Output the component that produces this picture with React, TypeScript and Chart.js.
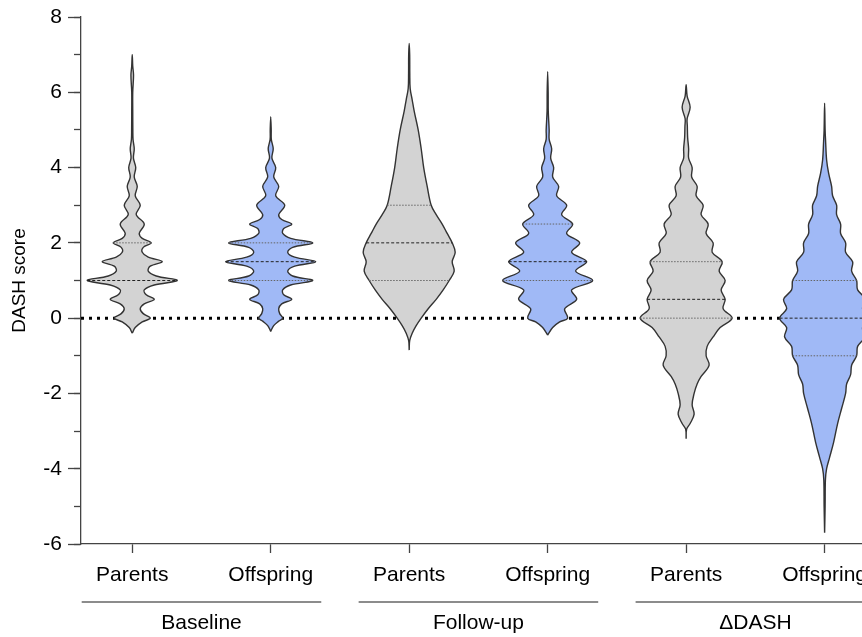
import React, { useEffect, useRef } from 'react';
import { Chart, registerables } from 'chart.js';

Chart.register(...registerables);

// ---- Data ----
const subgroupLabels = ['Parents', 'Offspring', 'Parents', 'Offspring', 'Parents', 'Offspring'];
const groupLabels = ['Baseline', 'Follow-up', 'ΔDASH'];
const groupCenters = [0.5, 2.5, 4.5];

// Violin outlines: [score, relative half-width] from bottom to top
const baselineParents: [number, number][] = [
  [-0.4, 0], [-0.25, 3], [-0.1, 10], [0, 18], [0.12, 11], [0.25, 8], [0.38, 12], [0.5, 22], [0.62, 14],
  [0.75, 12], [0.88, 22], [1.0, 45], [1.12, 24], [1.25, 16], [1.38, 18], [1.5, 30], [1.62, 16], [1.75, 10],
  [1.88, 11], [2.0, 19], [2.12, 10], [2.25, 7], [2.5, 12], [2.75, 4], [3.0, 8], [3.25, 3], [3.5, 5],
  [3.75, 2], [4.0, 3.5], [4.25, 1.2], [4.5, 2], [4.75, 0.8], [5.0, 0.6], [5.5, 0.5], [6.0, 0.5],
  [6.45, 1.3], [6.7, 0.5], [7.0, 0],
];
const baselineOffspring: [number, number][] = [
  [-0.35, 0], [-0.2, 3], [-0.08, 8], [0, 12], [0.12, 9], [0.25, 8], [0.38, 11], [0.5, 21], [0.62, 13],
  [0.75, 12], [0.88, 20], [1.0, 42], [1.12, 22], [1.25, 17], [1.38, 24], [1.5, 45], [1.62, 24], [1.75, 17],
  [1.88, 22], [2.0, 42], [2.12, 20], [2.25, 12], [2.38, 13], [2.5, 21], [2.62, 11], [2.75, 8], [3.0, 14],
  [3.25, 5], [3.5, 8], [3.75, 3], [4.0, 5], [4.25, 1.2], [4.5, 2.5], [4.75, 0.6], [5.0, 0.5], [5.35, 0],
];
const followupParents: [number, number][] = [
  [-0.85, 0], [-0.6, 0.5], [-0.4, 3], [-0.2, 7], [0, 12], [0.25, 19], [0.5, 27], [0.75, 34], [1.0, 40],
  [1.25, 45], [1.5, 43], [1.75, 46], [2.0, 43], [2.25, 38], [2.5, 33], [2.75, 27], [3.0, 22], [3.5, 18],
  [4.0, 14.5], [4.5, 12], [5.0, 9], [5.5, 5], [5.8, 3], [6.1, 1], [6.5, 0.6], [7.0, 0.5], [7.3, 0],
];
const followupOffspring: [number, number][] = [
  [-0.45, 0], [-0.25, 5], [-0.1, 12], [0, 20], [0.25, 17], [0.5, 29], [0.75, 24], [1.0, 45], [1.25, 28],
  [1.5, 39], [1.75, 24], [2.0, 32], [2.25, 19], [2.5, 25], [2.75, 14], [3.0, 19], [3.25, 9], [3.5, 11],
  [3.75, 5], [4.0, 6], [4.25, 3], [4.5, 4], [4.75, 1.5], [5.0, 1.5], [5.5, 0.6], [6.0, 0.5], [6.55, 0],
];
const deltaParents: [number, number][] = [
  [-3.2, 0], [-2.95, 0.5], [-2.8, 4], [-2.55, 8], [-2.3, 6], [-2.0, 8], [-1.75, 11], [-1.55, 15],
  [-1.25, 23], [-1.0, 20], [-0.75, 21], [-0.5, 27], [-0.25, 34], [0, 46], [0.25, 37], [0.5, 39],
  [0.75, 35], [1.0, 39], [1.25, 33], [1.5, 36], [1.75, 26], [2.0, 27], [2.25, 20], [2.5, 22], [2.75, 15],
  [3.0, 17], [3.25, 10], [3.5, 11], [3.75, 5.5], [4.0, 6], [4.25, 2.5], [4.5, 2.5], [4.8, 1.5], [5.1, 1.2],
  [5.3, 1], [5.6, 4], [5.9, 1], [6.2, 0],
];
const deltaOffspring: [number, number][] = [
  [-5.7, 0], [-5.0, 0.5], [-4.3, 0.8], [-4.0, 2], [-3.7, 5], [-3.3, 9], [-2.8, 13], [-2.4, 17], [-2.0, 21],
  [-1.75, 22], [-1.5, 26], [-1.25, 27], [-1.0, 32], [-0.75, 33], [-0.5, 40], [-0.25, 38], [0, 45],
  [0.25, 38], [0.5, 41], [0.75, 33], [1.0, 32], [1.25, 27], [1.5, 28], [1.75, 21], [2.0, 21], [2.25, 16],
  [2.5, 16], [2.75, 12], [3.0, 12], [3.25, 8], [3.5, 7], [3.85, 4], [4.2, 2], [4.7, 1], [5.0, 0.5], [5.71, 0],
];

const quartile1 = [1, 1, 1, 1, 0, -1];
const medians = [1, 1.5, 2, 1.5, 0.5, 0];
const quartile3 = [2, 2, 3, 2.5, 1.5, 1];

// ---- Styling ----
const violins = [baselineParents, baselineOffspring, followupParents, followupOffspring, deltaParents, deltaOffspring];
const fills = ['#d3d3d3', '#a0b9f6', '#d3d3d3', '#a0b9f6', '#d3d3d3', '#a0b9f6'];
const X_MIN = -0.37;
const X_MAX = 5.27;
const Y_MIN = -6;
const Y_MAX = 8;
const WIDTH_SCALE = 0.325 / 45; // relative width -> x units
const GROUP_HALF = 0.865;
const FONT = '"Liberation Sans", Arial, Helvetica, sans-serif';
const LABEL_SIZE = 21;

function widthAt(profile: [number, number][], y: number): number {
  for (let i = 0; i < profile.length - 1; i++) {
    const [y0, w0] = profile[i];
    const [y1, w1] = profile[i + 1];
    if (y >= y0 && y <= y1) return y1 === y0 ? w0 : w0 + ((w1 - w0) * (y - y0)) / (y1 - y0);
  }
  return 0;
}

function outline(center: number, profile: [number, number][]) {
  const right = profile.map(([y, w]) => ({ x: center + w * WIDTH_SCALE, y }));
  const left = profile
    .slice()
    .reverse()
    .map(([y, w]) => ({ x: center - w * WIDTH_SCALE, y }));
  return right.concat(left.slice(1));
}

const groupPlugin = {
  id: 'groupLabels',
  afterDraw(chart: any) {
    const { ctx, chartArea } = chart;
    const x = chart.scales.x;
    ctx.save();
    groupLabels.forEach((label, i) => {
      const c = groupCenters[i];
      const x1 = x.getPixelForValue(c - GROUP_HALF);
      const x2 = x.getPixelForValue(c + GROUP_HALF);
      const yLine = chartArea.bottom + 58;
      ctx.strokeStyle = '#666';
      ctx.lineWidth = 1.5;
      ctx.beginPath();
      ctx.moveTo(x1, yLine);
      ctx.lineTo(x2, yLine);
      ctx.stroke();
      ctx.fillStyle = '#000';
      ctx.font = `${LABEL_SIZE}px ${FONT}`;
      ctx.textAlign = 'center';
      ctx.textBaseline = 'middle';
      ctx.fillText(label, x.getPixelForValue(c), chartArea.bottom + 79);
    });
    ctx.restore();
  },
};

export default function App() {
  const ref = useRef<HTMLCanvasElement | null>(null);

  useEffect(() => {
    if (!ref.current) return;
    Chart.defaults.font.family = FONT;
    const datasets: any[] = [];

    datasets.push({
      data: [{ x: X_MIN, y: 0 }, { x: X_MAX, y: 0 }],
      borderColor: '#000',
      borderWidth: 3,
      borderDash: [3, 5],
      pointRadius: 0,
      fill: false,
      tension: 0,
      order: 100,
    });

    violins.forEach((profile, i) => {
      datasets.push({
        data: outline(i, profile),
        borderColor: '#333',
        borderWidth: 1.4,
        backgroundColor: fills[i],
        pointRadius: 0,
        fill: 'shape',
        tension: 0.35,
        order: 10,
      });
      const addLine = (y: number, dash: number[], color: string) => {
        const w = widthAt(profile, y) * WIDTH_SCALE;
        datasets.push({
          data: [{ x: i - w, y }, { x: i + w, y }],
          borderColor: color,
          borderWidth: 1,
          borderDash: dash,
          pointRadius: 0,
          fill: false,
          tension: 0,
          order: 1,
        });
      };
      if (quartile1[i] !== medians[i]) addLine(quartile1[i], [1.5, 1.5], '#666');
      addLine(quartile3[i], [1.5, 1.5], '#666');
      addLine(medians[i], [3, 2], '#222');
    });

    const chart = new Chart(ref.current, {
      type: 'line',
      data: { datasets },
      plugins: [groupPlugin],
      options: {
        animation: false,
        responsive: false,
        devicePixelRatio: 1,
        layout: { padding: { top: 17, left: 0, right: 0, bottom: 48 } },
        plugins: { legend: { display: false }, tooltip: { enabled: false } },
        scales: {
          x: {
            type: 'linear',
            min: X_MIN,
            max: X_MAX,
            ticks: {
              stepSize: 1,
              includeBounds: false,
              autoSkip: false,
              maxRotation: 0,
              color: '#000',
              font: { size: LABEL_SIZE },
              padding: 10,
              callback: (v: any) => subgroupLabels[Math.round(Number(v))] ?? '',
            },
            grid: { drawOnChartArea: false, tickLength: 9, color: '#444', tickWidth: 1.3 },
            border: { color: '#444', width: 1.3 },
            afterFit: (s: any) => {
              s.height = 45;
              s.paddingLeft = 0;
              s.paddingRight = 0;
            },
          },
          y: {
            type: 'linear',
            min: Y_MIN,
            max: Y_MAX,
            ticks: { stepSize: 2, color: '#000', font: { size: LABEL_SIZE }, padding: 6 },
            grid: { drawOnChartArea: false, tickLength: 13, color: '#444', tickWidth: 1.3 },
            border: { color: '#444', width: 1.3 },
            title: {
              display: true,
              text: 'DASH score',
              color: '#000',
              font: { size: 19 },
              padding: { top: 8, bottom: 8 },
            },
            afterFit: (s: any) => {
              s.width = 81;
              s.paddingTop = 0;
              s.paddingBottom = 0;
            },
          },
          yMinor: {
            type: 'linear',
            axis: 'y',
            position: { x: X_MIN },
            min: Y_MIN,
            max: Y_MAX,
            ticks: { stepSize: 1, display: false },
            grid: { drawOnChartArea: false, tickLength: 7, color: '#444', tickWidth: 1.3 },
            border: { display: false },
          },
        },
      } as any,
    });
    return () => chart.destroy();
  }, []);

  return (
    <div style={{ position: 'fixed', left: 0, top: 0, width: 862, height: 637, background: '#fff' }}>
      <canvas ref={ref} width={862} height={637} style={{ width: 862, height: 637, display: 'block' }} />
    </div>
  );
}
